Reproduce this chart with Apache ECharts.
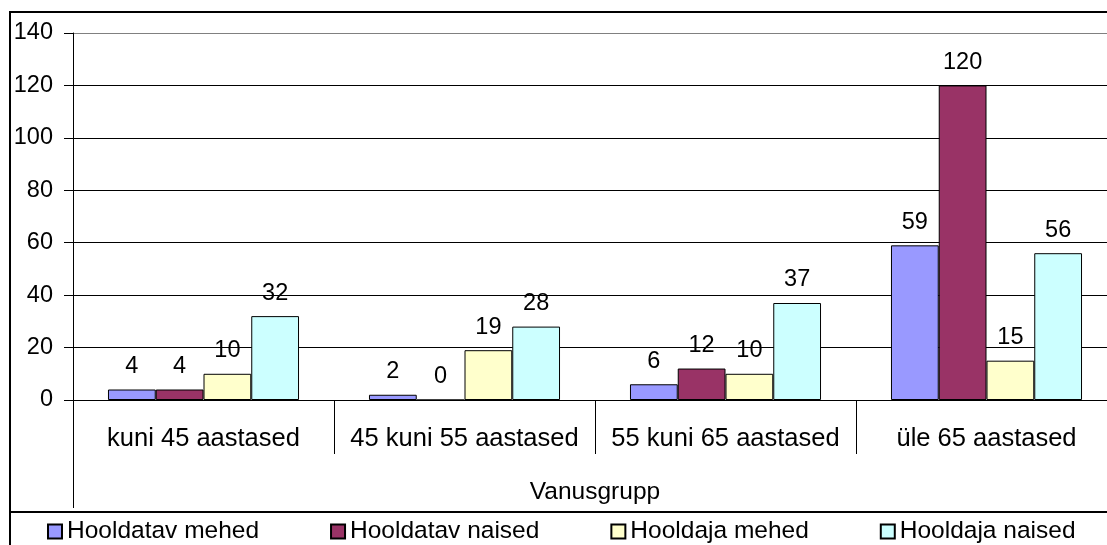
<!DOCTYPE html>
<html>
<head>
<meta charset="utf-8">
<script src="https://cdn.jsdelivr.net/npm/echarts@6/dist/echarts.min.js"></script>
<style>
  html, body { margin: 0; padding: 0; background: #fff; overflow: hidden; }
  #chart { width: 1130px; height: 545px; }
</style>
</head>
<body>
<div id="chart"></div>
<script>
// chart data
const categories = ['kuni 45 aastased', '45 kuni 55 aastased', '55 kuni 65 aastased', 'üle 65 aastased'];
const seriesNames = ['Hooldatav mehed', 'Hooldatav naised', 'Hooldaja mehed', 'Hooldaja naised'];
const hooldatavMehed = [4, 2, 6, 59];
const hooldatavNaised = [4, 0, 12, 120];
const hooldajaMehed = [10, 19, 10, 15];
const hooldajaNaised = [32, 28, 37, 56];
const yTicks = { min: 0, max: 140, interval: 20 };

const colors = ['#9999FF', '#993366', '#FFFFCC', '#CCFFFF'];
const FONT = '"Liberation Sans", Arial, sans-serif';

const seriesData = [hooldatavMehed, hooldatavNaised, hooldajaMehed, hooldajaNaised];

// gridlines black, the top one (plot area edge) grey
const gridColors = ['#000', '#000', '#000', '#000', '#000', '#000', '#000', '#808080'];

const chart = echarts.init(document.getElementById('chart'), null, { renderer: 'canvas' });

chart.setOption({
  animation: false,
  backgroundColor: '#fff',
  textStyle: { fontFamily: FONT, color: '#000' },
  grid: { left: 73, top: 33, width: 1044, height: 367, show: false },
  xAxis: {
    type: 'category',
    data: categories,
    boundaryGap: true,
    name: 'Vanusgrupp',
    nameLocation: 'middle',
    nameGap: 80,
    nameTextStyle: { fontSize: 24.5, color: '#000', fontFamily: FONT },
    axisLine: { show: true, lineStyle: { color: '#000', width: 1 } },
    axisTick: { show: true, alignWithLabel: false, interval: 0, length: 54, lineStyle: { color: '#000', width: 1 } },
    axisLabel: { fontSize: 25.5, color: '#000', margin: 26, fontFamily: FONT, interval: 0 }
  },
  yAxis: {
    type: 'value',
    min: yTicks.min,
    max: yTicks.max,
    interval: yTicks.interval,
    axisLine: { show: true, lineStyle: { color: '#000', width: 1 } },
    axisTick: { show: true, length: 9, lineStyle: { color: '#000', width: 1 } },
    axisLabel: { fontSize: 23.5, color: '#000', margin: 20, fontFamily: FONT },
    splitLine: { show: true, showMinLine: true, showMaxLine: true, lineStyle: { color: gridColors, width: 1 } }
  },
  legend: {
    left: 42,
    top: 514,
    icon: 'rect',
    itemWidth: 14,
    itemHeight: 14,
    itemGap: 71,
    selectedMode: false,
    textStyle: { fontSize: 24.5, color: '#000', fontFamily: FONT },
    data: seriesNames
  },
  series: seriesNames.map((name, i) => ({
    name,
    type: 'bar',
    data: seriesData[i],
    barGap: '0%',
    barCategoryGap: '26.8%',
    itemStyle: { color: colors[i], borderColor: '#000', borderWidth: 1 },
    label: {
      show: true,
      position: 'top',
      distance: 11,
      fontSize: 23.5,
      color: '#000',
      fontFamily: FONT
    }
  })),
  graphic: [
    // outer chart border
    { type: 'rect', shape: { x: 10, y: 12, width: 1200, height: 700 },
      style: { fill: 'none', stroke: '#000', lineWidth: 2 }, silent: true, z: 100 },
    // legend box top edge
    { type: 'rect', shape: { x: 10, y: 512, width: 1200, height: 200 },
      style: { fill: 'none', stroke: '#000', lineWidth: 2 }, silent: true, z: 100 },
    // value axis line continues down past the category labels
    { type: 'line', shape: { x1: 73.5, y1: 400, x2: 73.5, y2: 508 },
      style: { stroke: '#000', lineWidth: 1 }, silent: true, z: 100 }
  ]
});
</script>
</body>
</html>
